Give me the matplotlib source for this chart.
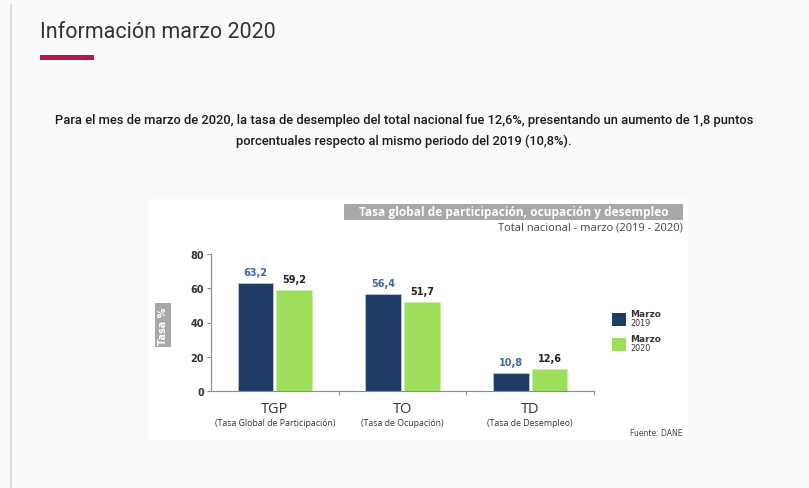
import matplotlib
matplotlib.use("Agg")
import numpy as np
from matplotlib import pyplot as plt
from matplotlib.patches import Rectangle

categorias = ["TGP", "TO", "TD"]
descripciones = ["(Tasa Global de Participación)", "(Tasa de Ocupación)", "(Tasa de Desempleo)"]
marzo_2019 = [63.2, 56.4, 10.8]
marzo_2020 = [59.2, 51.7, 12.6]
etiquetas_2019 = ["63,2", "56,4", "10,8"]
etiquetas_2020 = ["59,2", "51,7", "12,6"]
y_ticks = [0, 20, 40, 60, 80]

AZUL = "#1f3c64"
VERDE = "#9ddf5b"
GRIS = "#8a8a8a"

W, H = 809, 489
fig = plt.figure(figsize=(W / 100, H / 100), dpi=100)
fig.patch.set_facecolor("#fafafa")

def px(x, y):
    return x / W, 1 - y / H

# left border line of the page
fig.add_artist(plt.Line2D([11 / W, 11 / W], [0, 1 - 6 / H], color="#d8d8d8", lw=1.2))

# header
fig.text(*px(40, 33), "Información marzo 2020", fontsize=15.5, color="#333333",
         family="Roboto", va="center", ha="left")
fig.add_artist(Rectangle(px(40, 61), 54 / W, 5 / H, color="#b8174c", lw=0))

parrafo = ("Para el mes de marzo de 2020, la tasa de desempleo del total nacional fue 12,6%, presentando un aumento de 1,8 puntos\n"
           "porcentuales respecto al mismo periodo del 2019 (10,8%).")
fig.text(*px(404, 131), parrafo, fontsize=9.3, color="#1a1a1a", family="Roboto",
         weight="medium", ha="center", va="center", linespacing=1.75)

# white chart image background
fig.add_artist(Rectangle(px(148, 441), 540 / W, 241 / H, color="white", lw=0, zorder=-5))

# chart title box
fig.add_artist(Rectangle(px(344, 221), 339 / W, 16 / H, color="#a8a8a8", lw=0))
fig.text(*px(514, 213), "Tasa global de participación, ocupación y desempleo", fontsize=8.6,
         color="white", weight="bold", family="Open Sans", ha="center", va="center")
fig.text(*px(683, 228), "Total nacional - marzo (2019 - 2020)", fontsize=8, color="#444444",
         family="Open Sans", ha="right", va="center")

ax = fig.add_axes([211 / W, 1 - 392 / H, (594 - 211) / W, (392 - 255) / H])
ax.set_facecolor("white")
x = np.arange(len(categorias))
ancho = 0.28
sep = 0.012
ax.bar(x - ancho / 2 - sep, marzo_2019, ancho, color=AZUL, edgecolor="#b9c6d8", lw=0.6)
ax.bar(x + ancho / 2 + sep, marzo_2020, ancho, color=VERDE, edgecolor="#c9efa7", lw=0.6)

for xi, v, t in zip(x, marzo_2019, etiquetas_2019):
    ax.text(xi - ancho / 2 - sep, v + 3.5, t, ha="center", va="bottom", fontsize=7,
            weight="bold", color="#3d6a9e")
for xi, v, t in zip(x, marzo_2020, etiquetas_2020):
    ax.text(xi + ancho / 2 + sep, v + 3.5, t, ha="center", va="bottom", fontsize=7,
            weight="bold", color="#222222")

ax.set_xlim(-0.5, 2.5)
ax.set_ylim(0, 80)
ax.set_yticks(y_ticks)
ax.set_yticklabels([str(t) for t in y_ticks], fontsize=7, weight="bold", color="#333333")
ax.set_xticks([0.5, 1.5, 2.5])
ax.set_xticklabels([])
ax.tick_params(axis="y", length=3, color=GRIS, pad=2)
ax.tick_params(axis="x", length=3, color=GRIS)
for s in ["top", "right"]:
    ax.spines[s].set_visible(False)
for s in ["left", "bottom"]:
    ax.spines[s].set_color(GRIS)
    ax.spines[s].set_linewidth(0.8)

for xi, c, d in zip(x, categorias, descripciones):
    ax.text(xi, -10.5, c, transform=ax.transData, ha="center", va="center", fontsize=10.5,
            color="#333333", family="Open Sans", clip_on=False)
    ax.text(xi, -18.5, d, transform=ax.transData, ha="center", va="center", fontsize=6.3,
            color="#333333", family="Open Sans", clip_on=False)

# y axis label box
fig.text(*px(163, 326), "Tasa %", rotation=90, fontsize=7, weight="bold", color="white",
         ha="center", va="center",
         bbox=dict(boxstyle="square,pad=0.3", fc="#a8a8a8", ec="none"))

# legend
for yy, col, anio in [(314, AZUL, "2019"), (339, VERDE, "2020")]:
    fig.add_artist(Rectangle(px(612, yy + 13), 14 / W, 13 / H, color=col, lw=0))
    fig.text(*px(630, yy + 1), "Marzo", fontsize=6.5, weight="bold", color="#333333", va="center")
    fig.text(*px(630, yy + 10), anio, fontsize=5.8, color="#333333", va="center")

fig.text(*px(683, 434), "Fuente: DANE", fontsize=5.5, color="#444444", ha="right", va="center")

fig.savefig("out.png", dpi=100, facecolor=fig.get_facecolor())
